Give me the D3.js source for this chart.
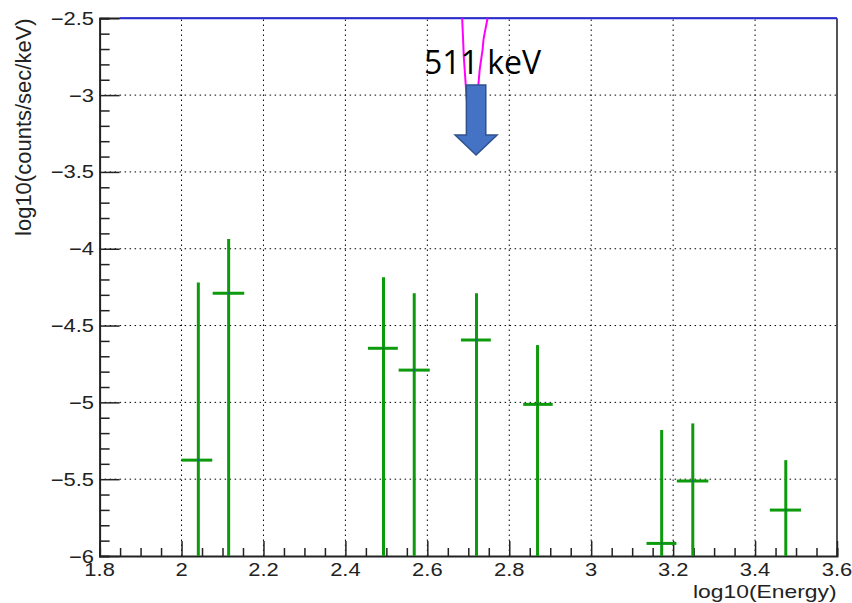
<!DOCTYPE html>
<html>
<head>
<meta charset="utf-8">
<script src="https://cdn.jsdelivr.net/npm/d3@7"></script>
<style>
  html, body { margin: 0; padding: 0; background: #fff; }
  svg { display: block; }
</style>
</head>
<body>
<svg id="chart" width="852" height="603"></svg>
<script>
// ---- data (log10 energy in keV, log10 rate in counts/sec/keV) ----
const binCenter = [2.041, 2.115, 2.493, 2.568, 2.720, 2.869, 3.172, 3.248, 3.475];
const binLow    = [2.000, 2.076, 2.455, 2.530, 2.682, 2.834, 3.135, 3.209, 3.436];
const binHigh   = [2.075, 2.153, 2.528, 2.606, 2.755, 2.906, 3.208, 3.286, 3.512];
const rate      = [-5.376, -4.290, -4.648, -4.790, -4.594, -5.013, -5.918, -5.512, -5.701];
const rateUpper = [-4.219, -3.937, -4.186, -4.290, -4.290, -4.627, -5.180, -5.137, -5.376];
// lower error reaches below the plotted range for every bin
const rateLower = [-7, -7, -7, -7, -7, -7, -7, -7, -7];

// continuum model (above the visible range, drawn at the frame top)
const modelX = [1.85, 3.6];
const modelY = [-2.5, -2.5];

// 511 keV line profile
const lineX = [2.685, 2.687, 2.689, 2.696, 2.704, 2.712, 2.725, 2.728, 2.735, 2.737, 2.739, 2.747];
const lineY = [-2.50, -2.62, -2.75, -3.02, -3.25, -3.25, -2.92, -2.83, -2.70, -2.64, -2.61, -2.50];

// annotation arrow: x position, shaft top, shaft bottom, tip
const arrowX = 2.719;
const arrowLevels = [-2.934, -3.26, -3.39];
const arrowLabel = "511 keV";

const xTicks = [1.8, 2.0, 2.2, 2.4, 2.6, 2.8, 3.0, 3.2, 3.4, 3.6];
const yTicks = [-2.5, -3, -3.5, -4, -4.5, -5, -5.5, -6];
const xTitle = "log10(Energy)";
const yTitle = "log10(counts/sec/keV)";

// ---- scales ----
const svg = d3.select("#chart");
const x = d3.scaleLinear().domain([1.8, 3.6]).range([99.6, 837]);
const y = d3.scaleLinear().domain([-6, -2.5]).range([556, 18.3]);
const yc = v => y(Math.max(v, -6));

const textScale = 1.22;
const fmt = v => (v < 0 ? "\u2212" : "") + d3.format("")(Math.abs(v));

// ---- grid ----
const grid = svg.append("g").attr("stroke", "#000").attr("stroke-width", 1)
  .attr("stroke-dasharray", "1.5,3.5");
grid.selectAll("line.gx").data(xTicks.slice(1, -1)).join("line")
  .attr("x1", d => x(d)).attr("x2", d => x(d))
  .attr("y1", y(-6)).attr("y2", y(-2.5));
grid.selectAll("line.gy").data(yTicks.slice(1, -1)).join("line")
  .attr("y1", d => y(d)).attr("y2", d => y(d))
  .attr("x1", x(1.8)).attr("x2", x(3.6));

// ---- frame ----
svg.append("line").attr("x1", x(1.8)).attr("x2", x(3.6)).attr("y1", y(-2.5)).attr("y2", y(-2.5))
  .attr("stroke", "#222").attr("stroke-width", 1.5);
svg.append("line").attr("x1", x(3.6)).attr("x2", x(3.6)).attr("y1", y(-2.5)).attr("y2", y(-6))
  .attr("stroke", "#555").attr("stroke-width", 2);

// ---- axes (ticks pointing inside) ----
const xAxis = svg.append("g").attr("transform", `translate(0,${y(-6)})`);
xAxis.call(d3.axisBottom(x).tickValues(d3.range(1.8, 3.6001, 0.05)).tickSize(-8).tickFormat(""));
xAxis.call(g => g.selectAll(".tick line").filter(d => xTicks.some(t => Math.abs(t - d) < 1e-6)).attr("y2", -15));
xAxis.select(".domain").attr("stroke", "#222").attr("stroke-width", 2);
xAxis.selectAll(".tick line").attr("stroke", "#222").attr("stroke-width", 1.5);

const yAxis = svg.append("g").attr("transform", `translate(${x(1.8)},0)`);
yAxis.call(d3.axisLeft(y).tickValues(d3.range(-6, -2.4999, 0.1)).tickSize(-10).tickFormat(""));
yAxis.call(g => g.selectAll(".tick line").filter(d => yTicks.some(t => Math.abs(t - d) < 1e-6)).attr("x2", 20));
yAxis.select(".domain").attr("stroke", "#222").attr("stroke-width", 2);
yAxis.selectAll(".tick line").attr("stroke", "#222").attr("stroke-width", 1.5);

// tick labels
const labelFont = "'Liberation Sans', Arial, sans-serif";
svg.append("g").selectAll("text").data(xTicks).join("text")
  .attr("transform", d => `translate(${x(d)},576) scale(${textScale},1)`)
  .attr("text-anchor", "middle").attr("font-family", labelFont).attr("font-size", 18)
  .attr("fill", "#222").text(d => d3.format("")(d));
svg.append("g").selectAll("text").data(yTicks).join("text")
  .attr("transform", d => `translate(94,${y(d) + 6.5}) scale(${textScale},1)`)
  .attr("text-anchor", "end").attr("font-family", labelFont).attr("font-size", 18)
  .attr("fill", "#222").text(d => fmt(d));

// axis titles
svg.append("text")
  .attr("transform", `translate(836.5,597.5) scale(1.27,1)`)
  .attr("text-anchor", "end").attr("font-family", labelFont).attr("font-size", 18)
  .attr("fill", "#222").text(xTitle);
svg.append("text")
  .attr("transform", `translate(31,${y(-2.5)}) rotate(-90)`)
  .attr("text-anchor", "end").attr("font-family", labelFont).attr("font-size", 22)
  .attr("fill", "#222").text(yTitle);

// ---- model curves ----
svg.append("path")
  .datum(modelX.map((d, i) => [d, modelY[i]]))
  .attr("d", d3.line().x(d => x(d[0])).y(d => y(d[1])))
  .attr("fill", "none").attr("stroke", "#2b2bd6").attr("stroke-width", 2);

svg.append("path")
  .datum(lineX.map((d, i) => [d, lineY[i]]))
  .attr("d", d3.line().x(d => x(d[0])).y(d => y(d[1])))
  .attr("fill", "none").attr("stroke", "#ff00ff").attr("stroke-width", 2);

// ---- data points with error bars ----
const pts = svg.append("g").attr("stroke", "#0d9a0d").attr("stroke-width", 3);
const idx = d3.range(binCenter.length);
pts.selectAll("line.ev").data(idx).join("line")
  .attr("x1", i => x(binCenter[i])).attr("x2", i => x(binCenter[i]))
  .attr("y1", i => yc(rateLower[i])).attr("y2", i => yc(rateUpper[i]));
pts.selectAll("line.eh").data(idx).join("line")
  .attr("x1", i => x(binLow[i])).attr("x2", i => x(binHigh[i]))
  .attr("y1", i => y(rate[i])).attr("y2", i => y(rate[i]));
svg.append("g").selectAll("circle").data(idx).join("circle")
  .attr("cx", i => x(binCenter[i])).attr("cy", i => y(rate[i])).attr("r", 0.8)
  .attr("fill", "#1a3cc8");

// ---- 511 keV annotation ----
svg.append("text")
  .attr("x", 424).attr("y", 73.5)
  .attr("font-family", "'Open Sans', 'Noto Sans', sans-serif").attr("font-size", 32)
  .attr("fill", "#000").text(arrowLabel);

const ax = x(arrowX);
const [aTop, aMid, aTip] = arrowLevels.map(y);
const shaftHalf = 9.7, headHalf = 21;
svg.append("path")
  .attr("d", d3.line()([
    [ax - shaftHalf, aTop], [ax + shaftHalf, aTop], [ax + shaftHalf, aMid],
    [ax + headHalf, aMid], [ax, aTip], [ax - headHalf, aMid], [ax - shaftHalf, aMid]
  ]) + "Z")
  .attr("fill", "#4472c4").attr("stroke", "#2f528f").attr("stroke-width", 1.5)
  .attr("stroke-linejoin", "miter");
</script>
</body>
</html>
